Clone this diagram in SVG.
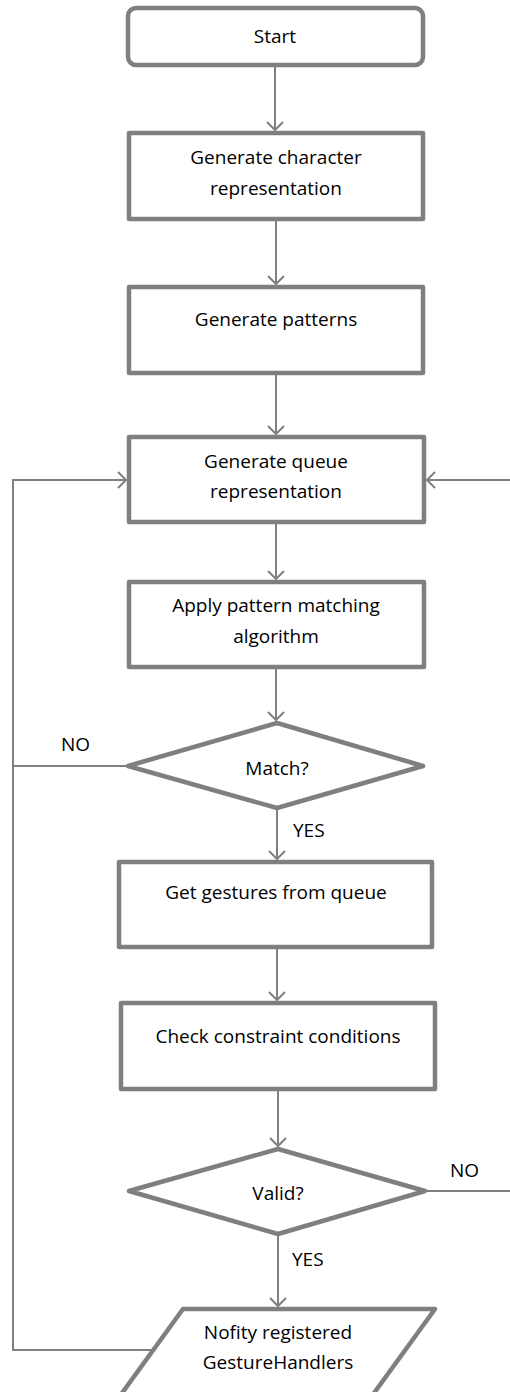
<svg xmlns="http://www.w3.org/2000/svg" width="510" height="1392" viewBox="0 0 510 1392">
  <style>
    .shape { fill: #ffffff; stroke: #7f7f7f; stroke-width: 4.5; stroke-linejoin: round; }
    .link { fill: none; stroke: #808080; stroke-width: 2; }
    .label { font-family: "Open Sans", "Liberation Sans", sans-serif; font-size: 19px; fill: #000000; text-anchor: middle; }
    .tag { font-family: "Open Sans", "Liberation Sans", sans-serif; font-size: 19px; fill: #000000; }
  </style>
  <defs>
    <marker id="arrow" markerUnits="userSpaceOnUse" markerWidth="20" markerHeight="20" viewBox="-10 -10 20 20" refX="0" refY="0" orient="auto">
      <path d="M-8,-8 L0,0 L-8,8" fill="none" stroke="#808080" stroke-width="2"/>
    </marker>
  </defs>
  <rect width="510" height="1392" fill="#ffffff"/>

  <g id="connectors">
    <line class="link" x1="275" y1="66" x2="275" y2="130" marker-end="url(#arrow)"/>
    <line class="link" x1="276" y1="220" x2="276" y2="284" marker-end="url(#arrow)"/>
    <line class="link" x1="276" y1="374" x2="276" y2="434" marker-end="url(#arrow)"/>
    <line class="link" x1="276" y1="523" x2="276" y2="579" marker-end="url(#arrow)"/>
    <line class="link" x1="276" y1="668" x2="276" y2="720" marker-end="url(#arrow)"/>
    <line class="link" x1="277" y1="809" x2="277" y2="859" marker-end="url(#arrow)"/>
    <line class="link" x1="277" y1="948" x2="277" y2="1000" marker-end="url(#arrow)"/>
    <line class="link" x1="278" y1="1090" x2="278" y2="1146" marker-end="url(#arrow)"/>
    <line class="link" x1="278" y1="1235" x2="278" y2="1306" marker-end="url(#arrow)"/>
    <!-- loop back from the decisions to the queue step -->
    <polyline class="link" points="151,1350 13,1350 13,480 126,480" marker-end="url(#arrow)"/>
    <line class="link" x1="128" y1="766" x2="13" y2="766"/>
    <line class="link" x1="425" y1="1191" x2="510" y2="1191"/>
    <line class="link" x1="510" y1="480" x2="427" y2="480" marker-end="url(#arrow)"/>
    <text class="tag" x="61" y="751">NO</text>
    <text class="tag" x="293" y="837">YES</text>
    <text class="tag" x="450" y="1177">NO</text>
    <text class="tag" x="292" y="1266">YES</text>
  </g>

  <g id="start">
    <rect class="shape" x="128" y="8" width="295" height="57" rx="8"/>
    <text class="label" x="275" y="43">Start</text>
  </g>
  <g id="char-repr">
    <rect class="shape" x="129" y="133" width="294" height="86"/>
    <text class="label" x="276" y="164">Generate character</text>
    <text class="label" x="276" y="195">representation</text>
  </g>
  <g id="patterns">
    <rect class="shape" x="129" y="287" width="294" height="86"/>
    <text class="label" x="276" y="326">Generate patterns</text>
  </g>
  <g id="queue-repr">
    <rect class="shape" x="129" y="437" width="295" height="85"/>
    <text class="label" x="276" y="468">Generate queue</text>
    <text class="label" x="276" y="498">representation</text>
  </g>
  <g id="matching">
    <rect class="shape" x="129" y="582" width="295" height="85"/>
    <text class="label" x="276" y="612">Apply pattern matching</text>
    <text class="label" x="276" y="643">algorithm</text>
  </g>
  <g id="match">
    <polygon class="shape" points="277,723 423,766 277,808 128,766"/>
    <text class="label" x="277" y="775">Match?</text>
  </g>
  <g id="get-gestures">
    <rect class="shape" x="119" y="862" width="313" height="85"/>
    <text class="label" x="276" y="899">Get gestures from queue</text>
  </g>
  <g id="constraints">
    <rect class="shape" x="121" y="1003" width="314" height="86"/>
    <text class="label" x="278" y="1043">Check constraint conditions</text>
  </g>
  <g id="valid">
    <polygon class="shape" points="278,1149 425,1191 278,1234 129,1191"/>
    <text class="label" x="278" y="1200">Valid?</text>
  </g>
  <g id="notify">
    <polygon class="shape" points="183,1309 435,1309 369,1400 117,1400"/>
    <text class="label" x="278" y="1339">Nofity registered</text>
    <text class="label" x="278" y="1369">GestureHandlers</text>
  </g>
</svg>
